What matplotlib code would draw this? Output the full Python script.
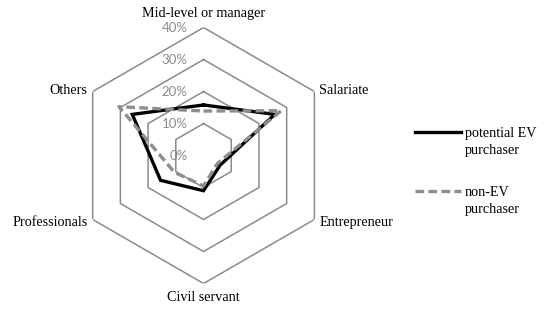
import numpy as np
import matplotlib
matplotlib.use("Agg")
import matplotlib.pyplot as plt
from matplotlib.legend_handler import HandlerLine2D
from matplotlib.lines import Line2D

categories = ['Mid-level or manager', 'Salariate', 'Entrepreneur',
              'Civil servant', 'Professionals', 'Others']
potential_ev = [15.8, 25.7, 6.0, 11.0, 15.5, 25.7]
non_ev = [13.9, 28.0, 5.0, 9.5, 10.5, 30.5]
rings = [10, 20, 30, 40]
ring_labels = ['0%', '10%', '20%', '30%', '40%']
ring_values = [0, 10, 20, 30, 40]
series_names = ['potential EV\npurchaser', 'non-EV\npurchaser']

serif = ['Liberation Serif', 'DejaVu Serif']


class UpHandler(HandlerLine2D):
    def create_artists(self, legend, orig_handle, xdescent, ydescent,
                       width, height, fontsize, trans):
        arts = super().create_artists(legend, orig_handle, xdescent, ydescent,
                                      width, height, fontsize, trans)
        for a in arts:
            if isinstance(a, Line2D):
                a.set_ydata(np.asarray(a.get_ydata()) + 0.68 * fontsize)
        return arts


fig = plt.figure(figsize=(5.5, 3.12), dpi=100)
ax = fig.add_axes([0.1373, 0.0913, 0.4655, 0.8205], projection='polar')
ax.set_theta_offset(np.pi / 2)
ax.set_theta_direction(-1)

n = len(categories)
theta = np.arange(n) * 2 * np.pi / n
theta_c = np.append(theta, theta[0])

grid_color = '#8a8a8a'
for r in rings:
    ax.plot(theta_c, [r] * (n + 1), color=grid_color, lw=1.1, zorder=1)

pe = potential_ev + potential_ev[:1]
ne = non_ev + non_ev[:1]
l1, = ax.plot(theta_c, pe, color='black', lw=2.4, zorder=3,
              solid_joinstyle='miter')
l2, = ax.plot(theta_c, ne, color='#8e8e8e', lw=2.4, zorder=4,
              linestyle=(0, (2.6, 1.3)))

ax.set_ylim(0, 40)
ax.set_xticks([])
ax.set_yticks([])
ax.grid(False)
ax.spines['polar'].set_visible(False)
ax.patch.set_visible(False)

for v, lab in zip(ring_values, ring_labels):
    ax.annotate(lab, xy=(0, v), xytext=(-16, 0), textcoords='offset pixels',
                ha='right', va='center', color='#8c8c8c', fontsize=9.5,
                family=['Lato', 'DejaVu Sans'], zorder=2)

offsets = [(0, 14, 'center'), (5, 1, 'left'), (5, -3, 'left'),
           (0, -14, 'center'), (-5, -3, 'right'), (-5, 1, 'right')]
for t, lab, (dx, dy, ha) in zip(theta, categories, offsets):
    ax.annotate(lab, xy=(t, 40), xytext=(dx, dy), textcoords='offset pixels',
                ha=ha, va='center', fontsize=10.2, family=serif,
                annotation_clip=False)

leg = fig.legend([l1, l2], series_names, loc='upper left',
                 bbox_to_anchor=(0.745, 0.611), frameon=False,
                 prop={'family': serif, 'size': 10.2}, handlelength=3.2,
                 handletextpad=0.3, labelspacing=2.1, borderaxespad=0,
                 handler_map={Line2D: UpHandler()})
for t in leg.get_texts():
    t.set_linespacing(1.35)

fig.savefig('out.png', dpi=100)
